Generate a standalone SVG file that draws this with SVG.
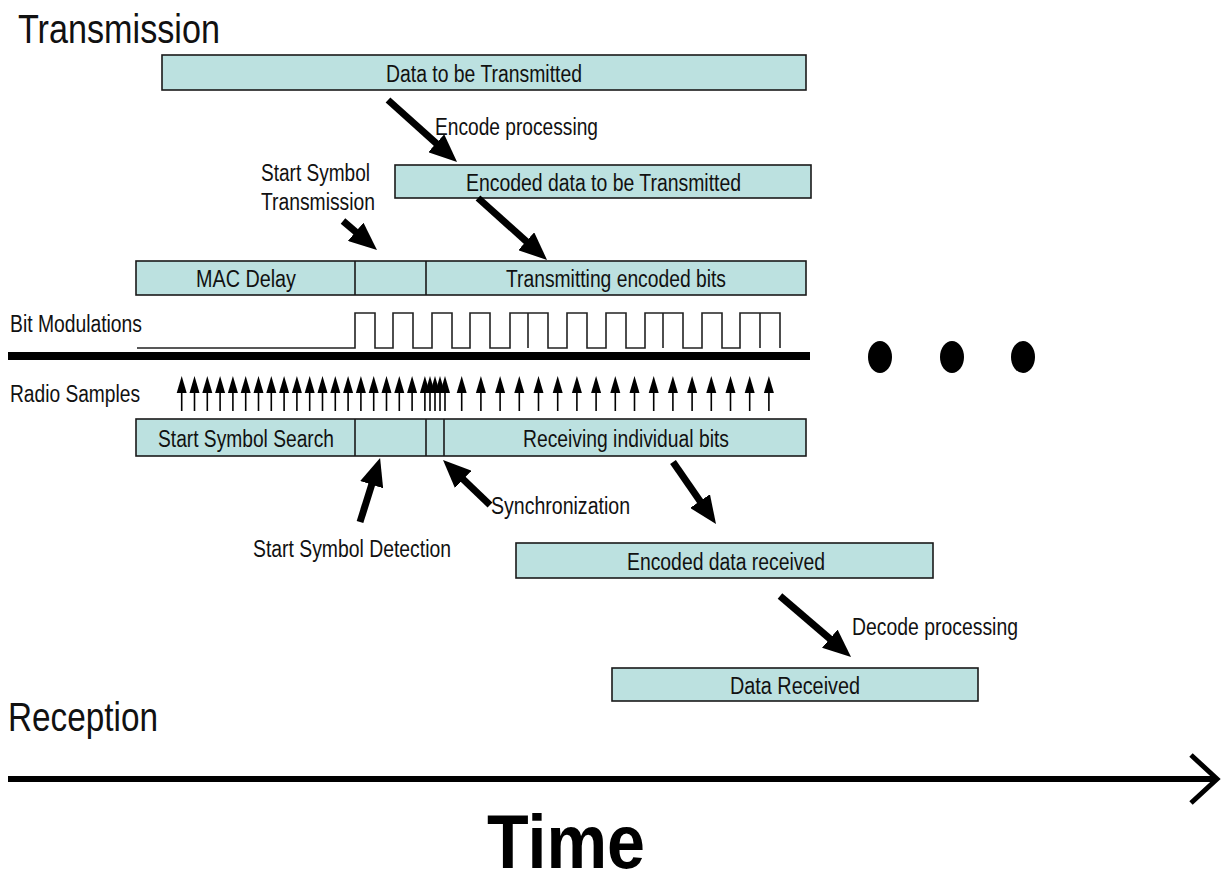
<svg xmlns="http://www.w3.org/2000/svg" xmlns:xlink="http://www.w3.org/1999/xlink" width="1225" height="875" viewBox="0 0 1225 875">
<style>
.box{fill:#bce1e0;stroke:#1a1a1a;stroke-width:1.6}
.div{stroke:#1a1a1a;stroke-width:1.6}
.t{font-family:"Liberation Sans",Arial,sans-serif;font-size:23px;fill:#111}
.big{font-family:"Liberation Sans",Arial,sans-serif;font-size:40px;fill:#111}
.time{font-family:"Liberation Sans",Arial,sans-serif;font-size:76px;font-weight:bold;fill:#000}
.thick{stroke:#000;stroke-width:7;fill:none;marker-end:url(#head)}
.wave{fill:none;stroke:#222;stroke-width:1.6}
.samp line{stroke:#000;stroke-width:1.6}
.samp path{fill:#000}
</style>
<defs>
<marker id="head" markerUnits="userSpaceOnUse" markerWidth="28" markerHeight="24" viewBox="0 0 28 24" refX="2" refY="12" orient="auto">
<path d="M0,0 L28,12 L0,24 z" fill="#000"/>
</marker>
<g id="sa" class="samp"><line x1="0" y1="411" x2="0" y2="391"/><path d="M-5,393 L0,376 L5,393 z"/></g>
</defs>
<rect width="1225" height="875" fill="#fff"/>

<g id="label-transmission"><text class="big" x="18" y="43" textLength="202" lengthAdjust="spacingAndGlyphs">Transmission</text></g>
<g id="label-reception"><text class="big" x="8" y="731" textLength="150" lengthAdjust="spacingAndGlyphs">Reception</text></g>

<g id="data-tx"><rect class="box" x="162" y="55" width="644" height="35"/><text class="t" x="386" y="82" textLength="196" lengthAdjust="spacingAndGlyphs">Data to be Transmitted</text></g>
<g id="encoded-tx"><rect class="box" x="395" y="165" width="416" height="33"/><text class="t" x="466" y="191" textLength="275" lengthAdjust="spacingAndGlyphs">Encoded data to be Transmitted</text></g>
<g id="tx-row"><rect class="box" x="136" y="261" width="670" height="34"/><line class="div" x1="355" y1="261" x2="355" y2="295"/><line class="div" x1="426" y1="261" x2="426" y2="295"/>
<text class="t" x="196" y="287" textLength="100" lengthAdjust="spacingAndGlyphs">MAC Delay</text>
<text class="t" x="506" y="287" textLength="220" lengthAdjust="spacingAndGlyphs">Transmitting encoded bits</text></g>
<g id="rx-row"><rect class="box" x="136" y="419" width="670" height="37"/><line class="div" x1="355" y1="419" x2="355" y2="456"/><line class="div" x1="426" y1="419" x2="426" y2="456"/><line class="div" x1="444" y1="419" x2="444" y2="456"/>
<text class="t" x="158" y="447" textLength="176" lengthAdjust="spacingAndGlyphs">Start Symbol Search</text>
<text class="t" x="523" y="447" textLength="206" lengthAdjust="spacingAndGlyphs">Receiving individual bits</text></g>
<g id="encoded-rx"><rect class="box" x="516" y="543" width="417" height="35"/><text class="t" x="627" y="570" textLength="198" lengthAdjust="spacingAndGlyphs">Encoded data received</text></g>
<g id="data-rx"><rect class="box" x="612" y="668" width="366" height="33"/><text class="t" x="730" y="694" textLength="130" lengthAdjust="spacingAndGlyphs">Data Received</text></g>

<g id="labels">
<text class="t" x="435" y="135" textLength="163" lengthAdjust="spacingAndGlyphs">Encode processing</text>
<text class="t" x="261" y="181" textLength="109" lengthAdjust="spacingAndGlyphs">Start Symbol</text>
<text class="t" x="261" y="210" textLength="114" lengthAdjust="spacingAndGlyphs">Transmission</text>
<text class="t" x="10" y="332" textLength="132" lengthAdjust="spacingAndGlyphs">Bit Modulations</text>
<text class="t" x="10" y="402" textLength="130" lengthAdjust="spacingAndGlyphs">Radio Samples</text>
<text class="t" x="491" y="514" textLength="139" lengthAdjust="spacingAndGlyphs">Synchronization</text>
<text class="t" x="253" y="557" textLength="198" lengthAdjust="spacingAndGlyphs">Start Symbol Detection</text>
<text class="t" x="852" y="635" textLength="166" lengthAdjust="spacingAndGlyphs">Decode processing</text>
</g>

<g id="bit-modulation">
<path class="wave" d="M137,348 H355 V313 H375 V348 H393 V313 H413 V348 H432 V313 H452 V348 H470 V313 H490 V348 H510 V313 H548 V348 H567 V313 H587 V348 H606 V313 H626 V348 H645 V313 H683 V348 H702 V313 H722 V348 H740 V313 H780 V348"/>
<path class="wave" d="M528,313 V348 M663,313 V348 M760,313 V348"/>
</g>
<g id="channel"><rect x="8" y="352" width="802" height="8" fill="#000"/></g>
<g id="ellipsis"><ellipse cx="880" cy="357" rx="12" ry="16"/><ellipse cx="952" cy="357" rx="12" ry="16"/><ellipse cx="1023" cy="357" rx="12" ry="16"/></g>

<g id="radio-samples">
<use xlink:href="#sa" x="181.7"/><use xlink:href="#sa" x="194.5"/><use xlink:href="#sa" x="207.3"/><use xlink:href="#sa" x="220.1"/><use xlink:href="#sa" x="232.9"/>
<use xlink:href="#sa" x="245.7"/><use xlink:href="#sa" x="258.5"/><use xlink:href="#sa" x="271.3"/><use xlink:href="#sa" x="284.1"/><use xlink:href="#sa" x="296.9"/>
<use xlink:href="#sa" x="309.7"/><use xlink:href="#sa" x="322.5"/><use xlink:href="#sa" x="335.3"/><use xlink:href="#sa" x="348.1"/><use xlink:href="#sa" x="360.9"/>
<use xlink:href="#sa" x="373.7"/><use xlink:href="#sa" x="386.5"/><use xlink:href="#sa" x="399.3"/><use xlink:href="#sa" x="412.1"/><use xlink:href="#sa" x="424.9"/>
<use xlink:href="#sa" x="430"/><use xlink:href="#sa" x="435"/><use xlink:href="#sa" x="440"/><use xlink:href="#sa" x="445"/>
<use xlink:href="#sa" x="461.7"/><use xlink:href="#sa" x="480.9"/><use xlink:href="#sa" x="500.1"/><use xlink:href="#sa" x="519.3"/><use xlink:href="#sa" x="538.5"/>
<use xlink:href="#sa" x="557.7"/><use xlink:href="#sa" x="576.9"/><use xlink:href="#sa" x="596.1"/><use xlink:href="#sa" x="615.3"/><use xlink:href="#sa" x="634.5"/>
<use xlink:href="#sa" x="653.7"/><use xlink:href="#sa" x="672.9"/><use xlink:href="#sa" x="692.1"/><use xlink:href="#sa" x="711.3"/><use xlink:href="#sa" x="730.5"/>
<use xlink:href="#sa" x="749.7"/><use xlink:href="#sa" x="768.9"/>
</g>

<g id="connectors">
<line class="thick" x1="388" y1="100" x2="437.7" y2="144.6"/>
<line class="thick" x1="478" y1="198" x2="527.7" y2="242.6"/>
<line class="thick" x1="343" y1="221" x2="357.2" y2="233.1"/>
<line class="thick" x1="360" y1="522" x2="372.3" y2="482.8"/>
<line class="thick" x1="490" y1="505" x2="461.8" y2="478"/>
<line class="thick" x1="673" y1="462" x2="701.2" y2="502.7"/>
<line class="thick" x1="780" y1="596" x2="831.3" y2="640"/>
</g>

<g id="time-axis">
<line x1="8" y1="779" x2="1216" y2="779" stroke="#000" stroke-width="6"/>
<polyline points="1191,755 1217,779 1191,803" fill="none" stroke="#000" stroke-width="5"/>
<text class="time" x="487" y="868" textLength="158" lengthAdjust="spacingAndGlyphs">Time</text>
</g>
</svg>
